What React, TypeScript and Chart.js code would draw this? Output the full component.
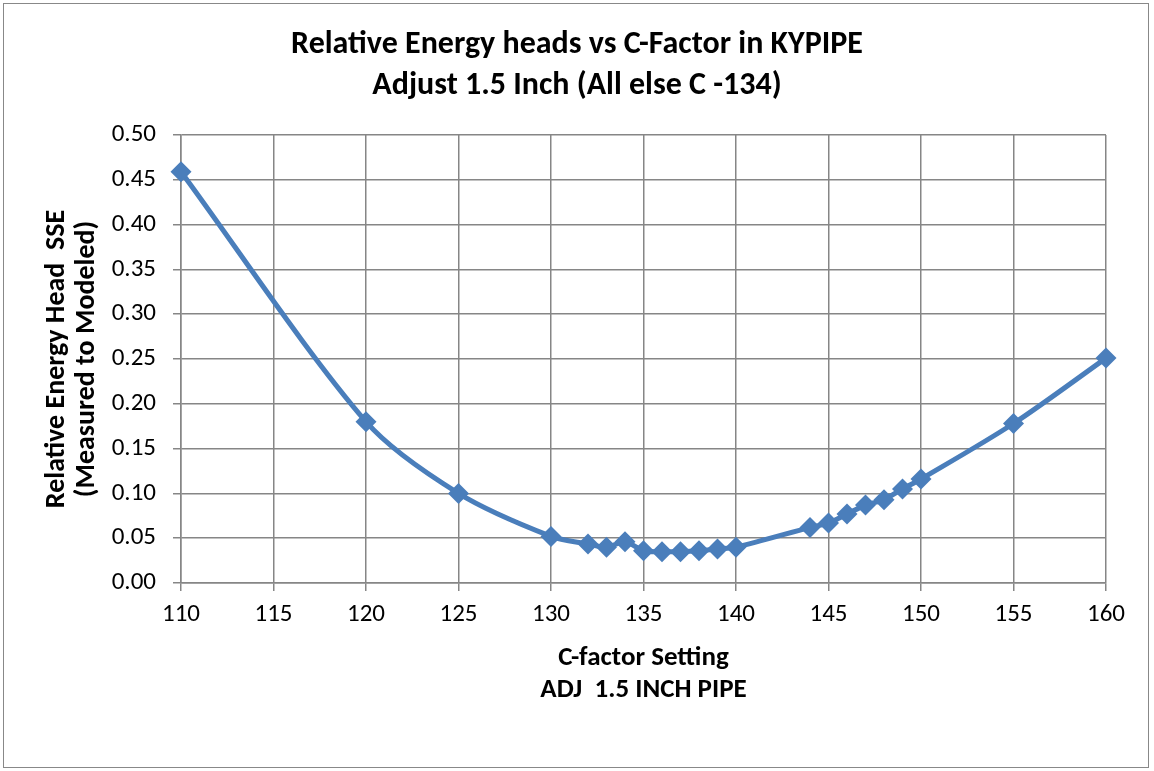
import React, { useEffect, useRef } from "react";
import { Chart, registerables } from "chart.js";

Chart.register(...registerables);

const cFactor = [110, 120, 125, 130, 132, 133, 134, 135, 136, 137, 138, 139, 140, 144, 145, 146, 147, 148, 149, 150, 155, 160];
const sse = [0.459, 0.18, 0.1, 0.052, 0.0435, 0.04, 0.046, 0.036, 0.035, 0.035, 0.036, 0.038, 0.04, 0.062, 0.067, 0.077, 0.087, 0.093, 0.105, 0.116, 0.178, 0.251];
const titleLines = ["Relative Energy heads vs C-Factor in KYPIPE", "Adjust 1.5 Inch (All else C -134)"];
const xTitleLines = ["C-factor Setting", "ADJ  1.5 INCH PIPE"];
const yTitleLines = ["Relative Energy Head  SSE", "(Measured to Modeled)"];

const FONT = "Carlito, Calibri, 'Liberation Sans Narrow', 'Open Sans', sans-serif";
const GRID = "#868686";
const BLUE = "#4a7ebb";

export default function App() {
  const ref = useRef<HTMLCanvasElement | null>(null);
  useEffect(() => {
    if (!ref.current) return;
    const chart = new Chart(ref.current, {
      type: "line",
      data: {
        datasets: [
          {
            data: cFactor.map((x, i) => ({ x, y: sse[i] })),
            borderColor: BLUE,
            backgroundColor: BLUE,
            borderWidth: 5,
            pointStyle: "rectRot",
            pointRadius: 10.5,
            pointBorderWidth: 0,
            pointBackgroundColor: BLUE,
            tension: 0.3,
            fill: false,
            clip: false,
            xAxisID: "x",
            yAxisID: "y",
          },
        ],
      },
      options: {
        animation: false,
        responsive: false,
        maintainAspectRatio: false,
        layout: { padding: 0 },
        plugins: {
          legend: { display: false },
          tooltip: { enabled: false },
          title: {
            display: true,
            text: titleLines,
            color: "#000",
            font: { family: FONT, size: 32, weight: "bold", lineHeight: 41 / 32 },
            padding: { top: 24, bottom: 29 },
          },
        },
        scales: {
          x: {
            type: "linear",
            position: "bottom",
            min: 110,
            max: 160,
            afterFit: (s: any) => {
              s.height = 188;
            },
            ticks: { stepSize: 5, color: "#000", font: { family: FONT, size: 25 }, padding: 9 },
            grid: { color: GRID, lineWidth: 1.5, tickLength: 8, tickColor: GRID },
            border: { color: GRID, width: 1.5 },
            title: {
              display: true,
              text: xTitleLines,
              color: "#000",
              font: { family: FONT, size: 27, weight: "bold", lineHeight: 32 / 27 },
              padding: { top: 0, bottom: 65 },
            },
          },
          y: {
            type: "linear",
            position: "left",
            min: 0,
            max: 0.5,
            afterFit: (s: any) => {
              s.width = 181;
            },
            ticks: {
              stepSize: 0.05,
              color: "#000",
              font: { family: FONT, size: 25 },
              padding: 17,
              callback: (v: any) => Number(v).toFixed(2),
            },
            grid: { color: GRID, lineWidth: 1.5, tickLength: 8, tickColor: GRID },
            border: { color: GRID, width: 1.5 },
            title: {
              display: true,
              text: yTitleLines,
              color: "#000",
              font: { family: FONT, size: 28, weight: "bold", lineHeight: 30 / 28 },
              padding: { top: 42, bottom: 0 },
            },
          },
          yRight: {
            type: "linear",
            position: "right",
            min: 0,
            max: 0.5,
            afterFit: (s: any) => {
              s.width = 48;
            },
            ticks: { display: false },
            grid: { display: false, drawTicks: false },
            border: { display: false },
          },
        },
      },
    });
    return () => chart.destroy();
  }, []);

  return (
    <div style={{ position: "fixed", left: 0, top: 0, width: 1154, height: 771, background: "#fff" }}>
      <div
        style={{
          position: "absolute",
          left: 3,
          top: 3,
          width: 1146,
          height: 765,
          border: "1.5px solid #888",
          boxSizing: "border-box",
        }}
      />
      <canvas ref={ref} width={1154} height={771} style={{ position: "absolute", left: 0, top: 0 }} />
    </div>
  );
}
